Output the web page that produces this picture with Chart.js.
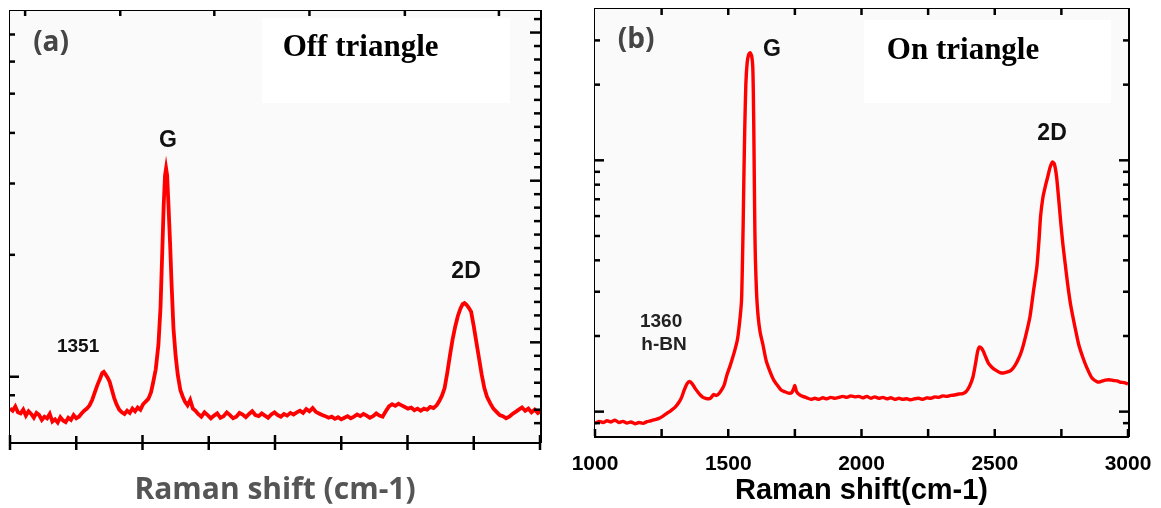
<!DOCTYPE html>
<html>
<head>
<meta charset="utf-8">
<script src="https://cdn.jsdelivr.net/npm/chart.js@4.4.1/dist/chart.umd.min.js"></script>
<style>
  html, body { margin: 0; padding: 0; background: #ffffff; }
  #wrap { position: relative; width: 1161px; height: 508px; overflow: hidden; }
  .panel { position: absolute; top: 0; height: 508px; }
  #pa { left: 0; width: 570px; }
  #pb { left: 570px; width: 591px; }
</style>
</head>
<body>
<div id="wrap">
  <div class="panel" id="pa"><canvas id="chartA"></canvas></div>
  <div class="panel" id="pb"><canvas id="chartB"></canvas></div>
</div>
<script>
// ---------- (a) Off triangle: Raman shift (cm-1) and intensity (a.u.) ----------
const ramanA = [
  1000, 1010, 1020, 1030, 1040, 1050, 1060, 1070, 1080, 1090,
  1100, 1110, 1120, 1130, 1140, 1150, 1160, 1170, 1180, 1190,
  1200, 1210, 1220, 1230, 1240, 1250, 1260, 1270, 1280, 1290,
  1300, 1310, 1320, 1330, 1340, 1348, 1354, 1360, 1368, 1376,
  1385, 1393, 1402, 1412, 1422, 1432, 1442, 1452, 1462, 1472,
  1482, 1492, 1502, 1512, 1522, 1532, 1540, 1550, 1560, 1568,
  1575, 1580, 1585, 1589, 1593, 1598, 1604, 1610, 1617, 1625,
  1633, 1643, 1652, 1660, 1670, 1680, 1690, 1700,
  1710, 1722, 1734, 1746, 1758, 1770, 1782, 1794, 1806, 1818,
  1830, 1842, 1854, 1866, 1878, 1890, 1902, 1914, 1926, 1938,
  1950, 1962, 1974, 1986, 1998, 2010, 2022, 2034, 2046, 2058,
  2070, 2082, 2094, 2106, 2118, 2130, 2142, 2154, 2166, 2178,
  2190, 2202, 2214, 2226, 2238, 2250, 2262, 2274, 2286, 2298,
  2310, 2322, 2334, 2346, 2358, 2370, 2382, 2394, 2406, 2418,
  2430, 2442, 2454, 2466, 2478, 2490, 2502, 2514, 2526, 2538,
  2550, 2562, 2574, 2586, 2598, 2610, 2620, 2630, 2640, 2650,
  2660, 2670, 2680, 2690, 2700, 2708, 2715, 2722, 2730, 2740,
  2750, 2760, 2770, 2780, 2790, 2800, 2812, 2824, 2836, 2848,
  2860, 2872, 2884, 2896, 2908, 2920, 2932, 2944, 2956, 2968,
  2980, 2992, 3000
];
const intensityA = [
  62, 58, 66, 55, 53, 60, 49, 57, 52, 45,
  54, 50, 41, 47, 44, 52, 38, 42, 36, 46,
  40, 37, 45, 41, 50, 44, 47, 53, 58, 62,
  68, 78, 92, 106, 118, 128, 130, 126, 120, 112,
  96, 82, 70, 60, 55, 52, 58, 54, 62, 57,
  64, 60, 70, 75, 80, 92, 110, 135, 180, 250,
  360, 440, 495, 508, 495, 440, 370, 290, 210, 160,
  125, 96, 84, 75, 68, 78, 62, 58,
  52, 47, 55, 50, 44, 49, 53, 45, 48, 55,
  50, 44, 47, 54, 51, 46, 52, 57, 50, 48,
  53, 49, 45, 51, 55, 50, 47, 52, 49, 54,
  51, 55, 58, 54, 61, 57, 63, 56, 53, 50,
  48, 45, 47, 43, 46, 42, 45, 48, 44, 47,
  51, 48, 52, 49, 45, 48, 53, 49, 47, 57,
  66, 70, 67, 71, 68, 65, 62, 64, 59, 62,
  58, 62, 60, 65, 63, 68, 76, 86, 100, 128,
  160, 190, 214, 234, 248, 256, 258, 255, 250, 242,
  215, 185, 155, 125, 100, 84, 72, 62, 56, 50,
  48, 44, 47, 52, 56, 60, 64, 58, 62, 55,
  60, 54, 57
];

// ---------- (b) On triangle ----------
const ramanB = [
  1000, 1015, 1030, 1045, 1060, 1075, 1090, 1105, 1120, 1135,
  1150, 1165, 1180, 1195, 1210, 1225, 1240, 1255, 1270, 1285,
  1300, 1315, 1325, 1335, 1345, 1355, 1365, 1375, 1385, 1395,
  1405, 1415, 1425, 1435, 1445, 1455, 1465, 1475, 1485, 1495,
  1505, 1515, 1525, 1535, 1545, 1550, 1553, 1556, 1559, 1562,
  1566, 1571, 1576, 1582, 1588, 1592, 1594, 1596, 1598, 1600,
  1602, 1606, 1612, 1620, 1630, 1642, 1656, 1670, 1685, 1698,
  1712, 1726, 1738, 1745, 1750, 1755, 1762, 1769, 1780, 1795,
  1810, 1825, 1840, 1855, 1870, 1885, 1900, 1915, 1930, 1945,
  1960, 1975, 1990, 2005, 2020, 2035, 2050, 2065, 2080, 2095,
  2110, 2125, 2140, 2155, 2170, 2185, 2200, 2215, 2230, 2245,
  2260, 2275, 2290, 2305, 2320, 2335, 2350, 2365, 2380, 2392,
  2405, 2418, 2430, 2436, 2443, 2450, 2458, 2466, 2476, 2490,
  2505, 2520, 2533, 2545, 2561, 2575, 2590, 2602, 2615, 2632,
  2645, 2658, 2666, 2672, 2681, 2690, 2700, 2708, 2717, 2724,
  2732, 2740, 2748, 2756, 2764, 2773, 2785, 2801, 2815, 2830,
  2845, 2865, 2887, 2900, 2915, 2929, 2945, 2960, 2970, 2985,
  3000
];
const intensityB = [
  90, 91.5, 90.5, 92, 91, 92.5, 90.5, 91.5, 90, 91,
  89.5, 90.5, 89.8, 91.2, 92, 93, 94, 96, 98.5, 101,
  104, 109, 114, 122, 129, 132, 129, 124, 120, 116.5,
  114, 113, 112.5, 113.5, 117, 116, 118, 122, 128, 140,
  150, 162, 176, 195, 240, 280, 380, 560, 900, 1350,
  2000, 2450, 2620, 2680, 2600, 2350, 1900, 1300, 800, 514,
  400, 300, 240, 206, 185, 160, 145, 134, 127, 122,
  120, 118.5, 119, 123, 127, 121, 118, 116.5, 115, 113.5,
  112, 113, 112, 113.5, 112.5, 114, 113, 114, 115, 114,
  115.5, 114.5, 115, 113.5, 115, 113, 114.5, 113, 114, 112.5,
  113.5, 112, 113, 112, 112.5, 111.5, 112.5, 113, 112, 113.5,
  113, 114.5, 114, 115.5, 115, 116, 116.5, 117.5, 118, 120,
  126, 137, 160, 174, 181, 179, 173, 165, 156, 150,
  146, 143, 142.5, 143.5, 146, 152, 163, 176, 198, 238,
  300, 376, 480, 600, 715, 790, 870, 940, 985, 965,
  860, 700, 560, 460, 390, 325, 265, 217, 185, 165,
  150, 136, 131, 132, 133.5, 134, 133, 132.5, 131, 130.5,
  129
];

// ---------- axis tick values ----------
const ticksA_bottom = [1000, 1250, 1500, 1750, 2000, 2250, 2500, 2750, 3000];
const ticksA_bottomMajor = [1000, 1500, 2000, 2500, 3000];
const ticksA_top = [1057, 1416, 1771, 2130, 2490, 2845];
const ticksA_left = [90, 100, 200, 300, 400, 500, 600, 700];
const ticksA_leftMajor = [100];
const ticksA_right = [
  35, 60, 85, 110, 135, 160, 185, 210, 235, 260,
  285, 310, 335, 360, 385, 410, 435, 460, 485, 510,
  535, 560, 585, 610, 635, 660, 685, 710, 735, 760, 785
];
const ticksA_rightMajor = [185, 485, 760];

const ticksB_bottom = [1000, 1250, 1500, 1750, 2000, 2250, 2500, 2750, 3000];
const ticksB_top = [1250, 1500, 1750, 2000, 2250, 2500, 2750];
const ticksB_y = [90, 100, 200, 300, 400, 500, 600, 700, 800, 900, 1000, 2000, 3000];
const ticksB_yMajor = [100, 1000];

// ---------- annotations (data coordinates) ----------
const notesA = [
  { text: '(a)', x: 1155, y: 740, style: 'panel' },
  { text: 'Off triangle', x: 2323, y: 731, style: 'serif' },
  { text: 'G', x: 1596, y: 560, style: 'peak' },
  { text: '2D', x: 2721, y: 317, style: 'peak' },
  { text: '1351', x: 1257, y: 176, style: 'smallA' }
];
const boxA = { x0: 1951, x1: 2887, y0: 787, y1: 629 };

const notesB = [
  { text: '(b)', x: 1154, y: 3012, style: 'panel' },
  { text: 'On triangle', x: 2381, y: 2720, style: 'serif' },
  { text: 'G', x: 1664, y: 2749, style: 'peak' },
  { text: '2D', x: 2715, y: 1273, style: 'peak' },
  { text: '1360', x: 1248, y: 227, style: 'smallB' },
  { text: 'h-BN', x: 1259, y: 184, style: 'smallB' }
];
const boxB = { x0: 2009, x1: 2936, y0: 3617, y1: 1691 };

// ---------- styles ----------
const SANS = "'Liberation Sans', Arial, sans-serif";
const noteStyles = {
  panel:  { font: "bold 28px 'Open Sans', sans-serif", color: '#454545' },
  serif:  { font: "bold 31px 'Liberation Serif', 'Times New Roman', serif", color: '#000' },
  peak:   { font: "bold 23px " + SANS, color: '#111' },
  smallA: { font: "bold 19px " + SANS, color: '#111' },
  smallB: { font: "bold 19px " + SANS, color: '#222' }
};
Chart.defaults.font.family = SANS;

// plot-area background and white label box
function backdropPlugin(box, yId) {
  return {
    id: 'backdrop',
    beforeDatasetsDraw(chart) {
      const { ctx, chartArea: a, scales } = chart;
      ctx.save();
      ctx.fillStyle = '#fafafa';
      ctx.fillRect(a.left, a.top, a.right - a.left, a.bottom - a.top);
      const x0 = scales.x.getPixelForValue(box.x0), x1 = scales.x.getPixelForValue(box.x1);
      const y0 = scales[yId].getPixelForValue(box.y0), y1 = scales[yId].getPixelForValue(box.y1);
      ctx.fillStyle = '#ffffff';
      ctx.fillRect(x0, y0, x1 - x0, y1 - y0);
      ctx.restore();
    }
  };
}

// text labels placed at data coordinates
function notesPlugin(notes, yId) {
  return {
    id: 'notes',
    afterDatasetsDraw(chart) {
      const { ctx, scales } = chart;
      ctx.save();
      ctx.textAlign = 'center';
      ctx.textBaseline = 'middle';
      notes.forEach(n => {
        const st = noteStyles[n.style];
        ctx.font = st.font;
        ctx.fillStyle = st.color;
        ctx.fillText(n.text, scales.x.getPixelForValue(n.x), scales[yId].getPixelForValue(n.y));
      });
      ctx.restore();
    }
  };
}

// inward (or crossing) tick marks on the frame
function tickMarkPlugin(specs) {
  return {
    id: 'tickMarks',
    afterDraw(chart) {
      const { ctx, chartArea: a } = chart;
      ctx.save();
      ctx.strokeStyle = '#000';
      ctx.lineWidth = 2.5;
      Object.keys(specs).forEach(id => {
        const s = specs[id];
        const sc = chart.scales[id];
        sc.ticks.forEach(t => {
          const p = sc.getPixelForValue(t.value);
          const len = (s.major && s.major.includes(t.value)) ? s.majorLen : s.len;
          const out = s.out || 0;
          ctx.beginPath();
          if (sc.position === 'left') { ctx.moveTo(a.left - out, p); ctx.lineTo(a.left + len, p); }
          else if (sc.position === 'right') { ctx.moveTo(a.right + out, p); ctx.lineTo(a.right - len, p); }
          else if (sc.position === 'bottom') { ctx.moveTo(p, a.bottom + out); ctx.lineTo(p, a.bottom - len); }
          else { ctx.moveTo(p, a.top - out); ctx.lineTo(p, a.top + len); }
          ctx.stroke();
        });
      });
      ctx.restore();
    }
  };
}

const frame = { display: true, width: 3, color: '#000' };
const setTicks = values => scale => { scale.ticks = values.map(v => ({ value: v })); };
const hiddenAxis = (extra) => Object.assign({
  ticks: { display: false },
  grid: { display: false },
  border: frame
}, extra);

// ---------- panel (a) ----------
new Chart(document.getElementById('chartA'), {
  type: 'line',
  data: {
    datasets: [{
      data: ramanA.map((x, i) => ({ x, y: intensityA[i] })),
      borderColor: '#ff0000',
      borderWidth: 3.8,
      pointRadius: 0,
      tension: 0,
      xAxisID: 'x',
      yAxisID: 'y'
    }]
  },
  options: {
    responsive: true,
    maintainAspectRatio: false,
    devicePixelRatio: 1,
    animation: false,
    events: [],
    layout: { padding: { left: 10, top: 11, right: 30, bottom: 0 } },
    plugins: { legend: { display: false }, tooltip: { enabled: false } },
    scales: {
      x: hiddenAxis({
        type: 'linear', position: 'bottom', min: 1000, max: 3000,
        afterBuildTicks: setTicks(ticksA_bottom),
        afterFit: s => { s.height = 66; s.paddingLeft = 0; s.paddingRight = 0; },
        title: {
          display: true, text: 'Raman shift (cm-1)', color: '#555555',
          font: { family: "'Open Sans', sans-serif", size: 30, weight: 'bold', lineHeight: 1.2 },
          padding: { top: 0, bottom: 0 }
        }
      }),
      x2: hiddenAxis({
        type: 'linear', position: 'top', min: 1000, max: 3000,
        afterBuildTicks: setTicks(ticksA_top),
        afterFit: s => { s.height = 0; }
      }),
      yLog: hiddenAxis({
        type: 'logarithmic', position: 'left', min: 69, max: 800,
        afterBuildTicks: setTicks(ticksA_left),
        afterFit: s => { s.width = 0; }
      }),
      y: hiddenAxis({
        type: 'linear', position: 'right', min: 0, max: 800,
        afterBuildTicks: setTicks(ticksA_right),
        afterFit: s => { s.width = 0; }
      })
    }
  },
  plugins: [
    backdropPlugin(boxA, 'y'),
    notesPlugin(notesA, 'y'),
    tickMarkPlugin({
      x: { len: 6, majorLen: 7, major: ticksA_bottomMajor, out: 8 },
      x2: { len: 5 },
      yLog: { len: 5, majorLen: 9, major: ticksA_leftMajor },
      y: { len: 6, majorLen: 10, major: ticksA_rightMajor }
    })
  ]
});

// ---------- panel (b) ----------
new Chart(document.getElementById('chartB'), {
  type: 'line',
  data: {
    datasets: [{
      data: ramanB.map((x, i) => ({ x, y: intensityB[i] })),
      borderColor: '#ff0000',
      borderWidth: 3.4,
      pointRadius: 0,
      tension: 0.2,
      xAxisID: 'x',
      yAxisID: 'y'
    }]
  },
  options: {
    responsive: true,
    maintainAspectRatio: false,
    devicePixelRatio: 1,
    animation: false,
    events: [],
    layout: { padding: { left: 25, top: 9, right: 33, bottom: 0 } },
    plugins: { legend: { display: false }, tooltip: { enabled: false } },
    scales: {
      x: {
        type: 'linear', position: 'bottom', min: 1000, max: 3000,
        afterBuildTicks: setTicks(ticksB_bottom),
        afterFit: s => { s.height = 72; s.paddingLeft = 0; s.paddingRight = 0; },
        grid: { display: false },
        border: frame,
        ticks: {
          display: true, autoSkip: false, maxRotation: 0, padding: 8,
          color: '#000', font: { size: 21, weight: 'bold', lineHeight: 1.2 },
          callback: v => (v % 500 === 0 ? String(v) : '')
        },
        title: {
          display: true, text: 'Raman shift(cm-1)', color: '#000',
          font: { size: 29, weight: 'bold', lineHeight: 1.2 },
          padding: { top: 0, bottom: 0 }
        }
      },
      x2: hiddenAxis({
        type: 'linear', position: 'top', min: 1000, max: 3000,
        afterBuildTicks: setTicks(ticksB_top),
        afterFit: s => { s.height = 0; }
      }),
      y: hiddenAxis({
        type: 'logarithmic', position: 'left', min: 80, max: 4000,
        afterBuildTicks: setTicks(ticksB_y),
        afterFit: s => { s.width = 0; }
      }),
      y2: hiddenAxis({
        type: 'logarithmic', position: 'right', min: 80, max: 4000,
        afterBuildTicks: setTicks(ticksB_y),
        afterFit: s => { s.width = 0; }
      })
    }
  },
  plugins: [
    backdropPlugin(boxB, 'y'),
    notesPlugin(notesB, 'y'),
    tickMarkPlugin({
      x: { len: 7 },
      x2: { len: 6 },
      y: { len: 5, majorLen: 9, major: ticksB_yMajor },
      y2: { len: 5, majorLen: 9, major: ticksB_yMajor }
    })
  ]
});
</script>
</body>
</html>
